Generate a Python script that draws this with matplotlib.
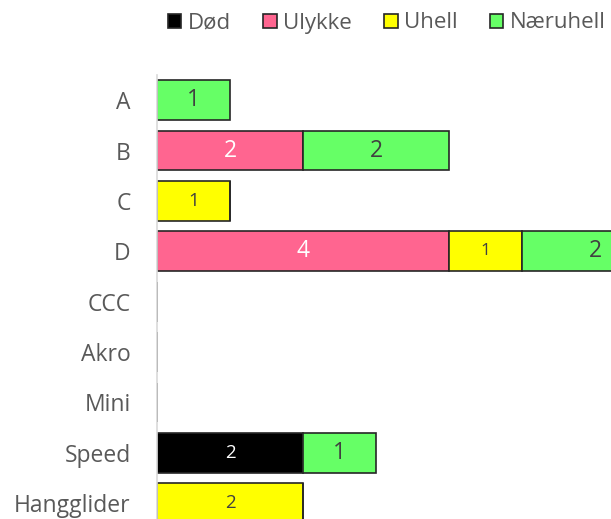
import matplotlib
matplotlib.use("Agg")
import matplotlib.pyplot as plt
from matplotlib.patches import Patch
import numpy as np

plt.rcParams['font.family'] = ['Open Sans', 'DejaVu Sans']

categories = ["A", "B", "C", "D", "CCC", "Akro", "Mini", "Speed", "Hangglider"]
series_names = ["Død", "Ulykke", "Uhell", "Næruhell"]
dod = [0, 0, 0, 0, 0, 0, 0, 2, 0]
ulykke = [0, 2, 0, 4, 0, 0, 0, 0, 0]
uhell = [0, 0, 1, 1, 0, 0, 0, 0, 2]
naeruhell = [1, 2, 0, 2, 0, 0, 0, 1, 0]
colors = ["#000000", "#FF6590", "#FFFF00", "#66FF66"]
label_colors = ["white", "white", "#404040", "#404040"]

fig = plt.figure(figsize=(6.11, 5.19), dpi=100)
ax = fig.add_axes([157/611, 0, 454/611, 1 - 75/519])

y = np.arange(len(categories))
left = np.zeros(len(categories))
for name, vals, col, lc in zip(series_names, [dod, ulykke, uhell, naeruhell], colors, label_colors):
    vals = np.array(vals, dtype=float)
    bars = ax.barh(y, vals, left=left, height=0.79, color=col, edgecolor="#262626", linewidth=1.2, label=name)
    for b, v, l in zip(bars, vals, left):
        if v > 0:
            fs = 16.5
            if name == "Død" or name == "Uhell":
                fs = 13.5
            if name == "Uhell" and l > 0:
                fs = 12.5
            ax.text(l + v / 2, b.get_y() + b.get_height() / 2, f"{int(v)}", ha="center", va="center",
                    color=lc, fontsize=fs)
    left += vals

ax.set_xlim(0, 454 / 73)
ax.set_ylim((519 - 100) / 50.4, -0.5)
ax.set_yticks(y)
ax.set_yticklabels(categories, fontsize=16.5, color="#595959")
ax.tick_params(axis="y", length=0, pad=19)
ax.set_xticks([])
for s in ["top", "right", "bottom"]:
    ax.spines[s].set_visible(False)
ax.spines["left"].set_color("#D9D9D9")
ax.spines["left"].set_linewidth(1.2)

handles = [Patch(facecolor=c, edgecolor="#262626", linewidth=1.2) for c in colors]
leg = fig.legend(handles, series_names, loc="center", bbox_to_anchor=(387/611, 1 - 23/519), ncol=4,
                 frameon=False, fontsize=16, handlelength=0.6, handleheight=0.6,
                 handletextpad=0.3, columnspacing=1.45, labelcolor="#595959")

fig.savefig("out.png", dpi=100)
